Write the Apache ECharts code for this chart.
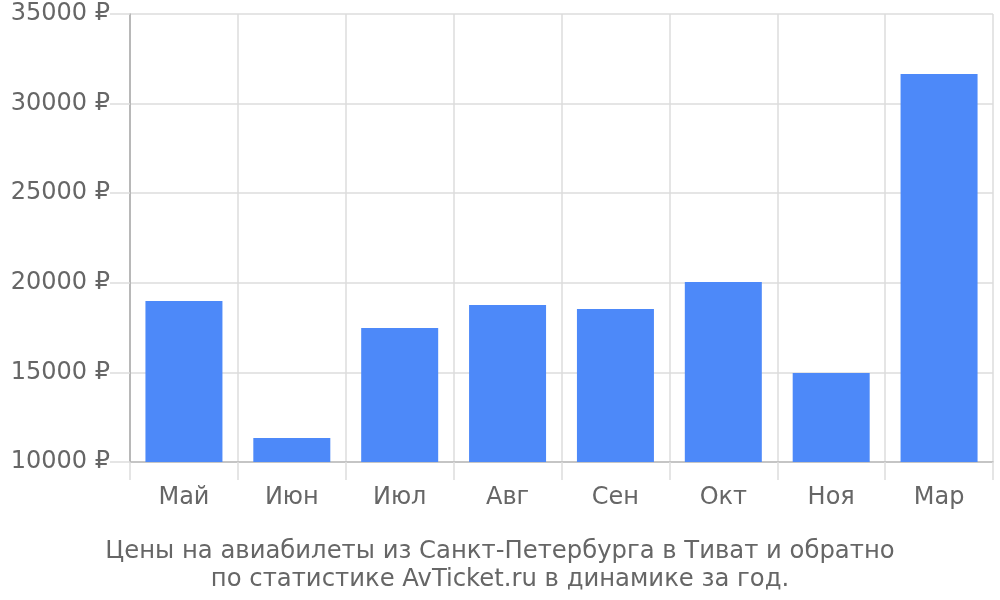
<!DOCTYPE html>
<html><head><meta charset="utf-8">
<script src="https://cdn.jsdelivr.net/npm/echarts@6/dist/echarts.min.js"></script>
<style>html,body{margin:0;padding:0;background:#fff}#c{width:1000px;height:600px}</style>
</head><body><div id="c"></div>
<script>
const categories = ['Май','Июн','Июл','Авг','Сен','Окт','Ноя','Мар'];
const prices = [18980, 11340, 17480, 18760, 18540, 20050, 14970, 31650];
const titleLines = ['Цены на авиабилеты из Санкт-Петербурга в Тиват и обратно','по статистике AvTicket.ru в динамике за год.'];
const chart = echarts.init(document.getElementById('c'));
chart.setOption({
  animation:false,
  title:{text:titleLines.join('\n'),left:'center',top:533,textStyle:{fontFamily:'DejaVu Sans',fontSize:24.3,fontWeight:'normal',color:'#666',lineHeight:28}},
  grid:{left:130,right:7,top:14,bottom:138},
  xAxis:{type:'category',data:categories,
    axisLine:{lineStyle:{color:'#bbb',width:1.5}},
    axisTick:{show:true,length:18,lineStyle:{color:'#ddd',width:1.5}},
    splitLine:{show:true,lineStyle:{color:'#ddd',width:1.5}},
    axisLabel:{fontFamily:'DejaVu Sans',fontSize:24,color:'#666',margin:24}},
  yAxis:{type:'value',min:10000,max:35000,interval:5000,
    axisLine:{show:true,lineStyle:{color:'#aaa',width:1.5}},
    axisTick:{show:true,length:20,lineStyle:{color:'#ddd',width:1.5}},
    splitLine:{lineStyle:{color:'#ddd',width:1.5}},
    axisLabel:{fontFamily:'DejaVu Sans',fontSize:24,color:'#666',margin:20,padding:[5,0,0,0],formatter:v=>v+' ₽'}},
  series:[{type:'bar',data:prices,barWidth:77,itemStyle:{color:'#4d89f9'}}]
});
</script></body></html>
